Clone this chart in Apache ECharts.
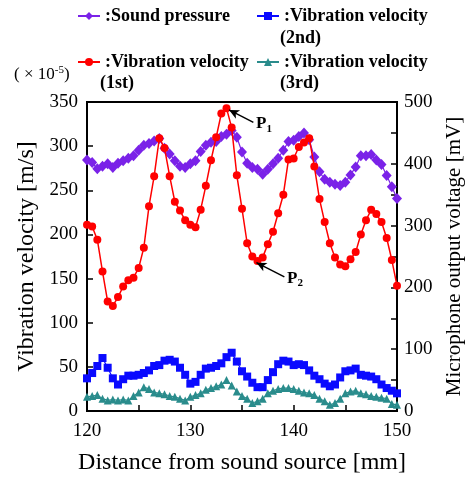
<!DOCTYPE html>
<html>
<head>
<meta charset="utf-8">
<script src="https://cdn.jsdelivr.net/npm/echarts@6/dist/echarts.min.js"></script>
<style>html,body{margin:0;padding:0;background:#fff;overflow:hidden;}#c{width:465px;height:477px;}</style>
</head>
<body>
<div id="c"></div>
<script>
// Distance from sound source [mm]
const distance = [120,120.5,121,121.5,122,122.5,123,123.5,124,124.5,125,125.5,126,126.5,127,127.5,128,128.5,129,129.5,130,130.5,131,131.5,132,132.5,133,133.5,134,134.5,135,135.5,136,136.5,137,137.5,138,138.5,139,139.5,140,140.5,141,141.5,142,142.5,143,143.5,144,144.5,145,145.5,146,146.5,147,147.5,148,148.5,149,149.5,150];
// Sound pressure (microphone output voltage, mV) - right axis
const soundPressure = [406,402,392,396,400,394,401,405,409,413,422,430,433,437,441,425,416,405,396,394,400,405,420,430,435,436,444,448,454,443,419,401,394,391,383,391,400,409,422,436,438,444,450,439,411,387,375,370,367,365,370,382,395,413,413,415,406,399,381,363,344];
// Vibration velocity (x10^-5 m/s) - left axis
const vel1st = [211,209,194,158,124,119,129,141,148,151,162,185,232,266,309,298,266,237,227,216,211,208,228,255,284,310,337,343,321,267,229,190,175,170,174,189,203,224,245,285,286,299,304,309,277,240,214,190,174,166,164,172,180,200,216,228,223,214,196,171,142];
const vel2nd = [37,43,51,60,49,37,30,36,40,40,41,43,46,51,52,57,58,56,49,41,31,33,41,48,49,51,54,61,66,56,45,39,32,27,27,35,44,53,57,56,52,53,52,46,40,36,31,28,30,38,45,46,48,41,40,39,36,30,26,23,20];
const vel3rd = [16,17,18,14,12,13,12,13,12,17,21,27,25,21,20,19,17,16,14,12,16,18,20,24,26,28,30,35,29,22,17,14,9,11,14,20,23,25,26,26,25,23,21,20,18,14,11,7,9,14,20,22,23,20,19,17,16,15,14,8,7];
// Annotation arrows: [label, tip, tail] in data units (mm, velocity)
const annotations = [
  ['1', [133.75, 341], [136.1, 327]],
  ['2', [136.4, 168], [139.1, 152]]
];
const seriesNames = [':Sound pressure', ':Vibration velocity', ':Vibration velocity', ':Vibration velocity'];
const xTicks = {min:120, max:150, interval:5};
const leftTicks = {min:0, max:350, interval:50};
const rightTicks = {min:0, max:500, interval:50};

const SERIF = '"Liberation Serif", "Times New Roman", serif';
const pair = arr => distance.map((d,i)=>[d, arr[i]]);

const chart = echarts.init(document.getElementById('c'), null, {renderer:'canvas'});
const legendText = {fontFamily: SERIF, fontWeight:'bold', fontSize:18, color:'#000'};
const legendCommon = {orient:'horizontal', itemWidth:22, itemHeight:10, textStyle: legendText, padding:0, selectedMode:false};

const opt = {
  animation:false,
  backgroundColor:'#fff',
  title: {
    text: '( × 10{sup|-5})',
    left: 14, top: 65,
    padding: 0,
    textStyle: {fontFamily: SERIF, fontSize:17, fontWeight:'normal', color:'#000',
      rich: {sup: {fontFamily: SERIF, fontSize:11, color:'#000', padding:[0,0,9,0]}}}
  },
  legend: [
    Object.assign({left:77, top:7, data:['s0']}, legendCommon),
    Object.assign({left:256, top:7, data:['s1']}, legendCommon),
    Object.assign({left:77, top:53, data:['s2']}, legendCommon),
    Object.assign({left:256, top:53, data:['s3']}, legendCommon)
  ],
  graphic: [
    {type:'text', left:280, top:29, style:{text:'(2nd)', font:'bold 18px ' + SERIF, fill:'#000'}},
    {type:'text', left:100, top:74, style:{text:'(1st)', font:'bold 18px ' + SERIF, fill:'#000'}},
    {type:'text', left:280, top:74, style:{text:'(3rd)', font:'bold 18px ' + SERIF, fill:'#000'}}
  ],
  grid: {left:87, right:68, top:102, bottom:66, show:true, borderColor:'#000', borderWidth:2,
    containLabel:false, outerBoundsMode:'none'},
  xAxis: {
    type:'value', min:xTicks.min, max:xTicks.max, interval:xTicks.interval,
    axisLine:{lineStyle:{color:'#000', width:2}},
    axisTick:{inside:true, length:6, lineStyle:{color:'#000', width:1.5}},
    splitLine:{show:false},
    axisLabel:{fontFamily:SERIF, fontSize:19, color:'#000', margin:11,
      formatter: v => (v % 10 === 0 ? String(v) : '')},
    name:'Distance from sound source [mm]', nameLocation:'middle', nameGap:40,
    nameTextStyle:{fontFamily:SERIF, fontSize:24, color:'#000'}
  },
  yAxis: [
    {
      type:'value', min:leftTicks.min, max:leftTicks.max, interval:leftTicks.interval,
      axisLine:{show:true, lineStyle:{color:'#000', width:2}},
      axisTick:{show:true, inside:true, length:6, lineStyle:{color:'#000', width:1.5}},
      splitLine:{show:false},
      axisLabel:{fontFamily:SERIF, fontSize:19, color:'#000', margin:9},
      name:'Vibration velocity [m/s]', nameLocation:'middle', nameGap:48,
      nameTextStyle:{fontFamily:SERIF, fontSize:24, color:'#000'}
    },
    {
      type:'value', min:rightTicks.min, max:rightTicks.max, interval:rightTicks.interval, position:'right',
      axisLine:{show:true, lineStyle:{color:'#000', width:2}},
      axisTick:{show:true, inside:true, length:6, lineStyle:{color:'#000', width:1.5}},
      splitLine:{show:false},
      axisLabel:{fontFamily:SERIF, fontSize:19, color:'#000', margin:7,
        formatter: v => (v % 100 === 0 ? String(v) : '')},
      name:'Microphone output voltage [mV]', nameLocation:'middle', nameGap:47, nameRotate:90,
      nameTextStyle:{fontFamily:SERIF, fontSize:21, color:'#000'}
    }
  ],
  series: [
    {id:'s0', name:'s0', type:'line', yAxisIndex:1, data:pair(soundPressure),
      symbol:'diamond', symbolSize:[10,11], color:'#7a22e8',
      lineStyle:{width:1.2, color:'#7a22e8'}, itemStyle:{color:'#7a22e8'}, z:2},
    {id:'s2', name:'s2', type:'line', yAxisIndex:0, data:pair(vel1st),
      symbol:'circle', symbolSize:8, color:'#ff0000',
      lineStyle:{width:1.5, color:'#ff0000'}, itemStyle:{color:'#ff0000'}, z:3,
      markLine:{
        silent:true, symbol:['arrow','none'], symbolSize:[7,10], animation:false,
        lineStyle:{color:'#000', width:1.5, type:'solid'},
        label:{show:true, position:'end', distance:3,
          formatter: p => '{p|P}{s|' + p.name + '}',
          rich:{p:{fontFamily:SERIF, fontWeight:'bold', fontSize:17, color:'#000'},
                s:{fontFamily:SERIF, fontWeight:'bold', fontSize:11, color:'#000', padding:[10,0,0,0]}}},
        data: annotations.map(a => [{name:a[0], coord:a[1]}, {coord:a[2]}])
      }},
    {id:'s1', name:'s1', type:'line', yAxisIndex:0, data:pair(vel2nd),
      symbol:'rect', symbolSize:8, color:'#0a0aff',
      lineStyle:{width:1.2, color:'#0a0aff'}, itemStyle:{color:'#0a0aff'}, z:2},
    {id:'s3', name:'s3', type:'line', yAxisIndex:0, data:pair(vel3rd),
      symbol:'triangle', symbolSize:8, color:'#2a8c8c',
      lineStyle:{width:1.2, color:'#2a8c8c'}, itemStyle:{color:'#2a8c8c'}, z:2}
  ]
};
// legend formatter maps internal ids to display names
opt.legend.forEach(l => { l.formatter = n => seriesNames[Number(n.slice(1))]; });
chart.setOption(opt);
</script>
</body>
</html>
